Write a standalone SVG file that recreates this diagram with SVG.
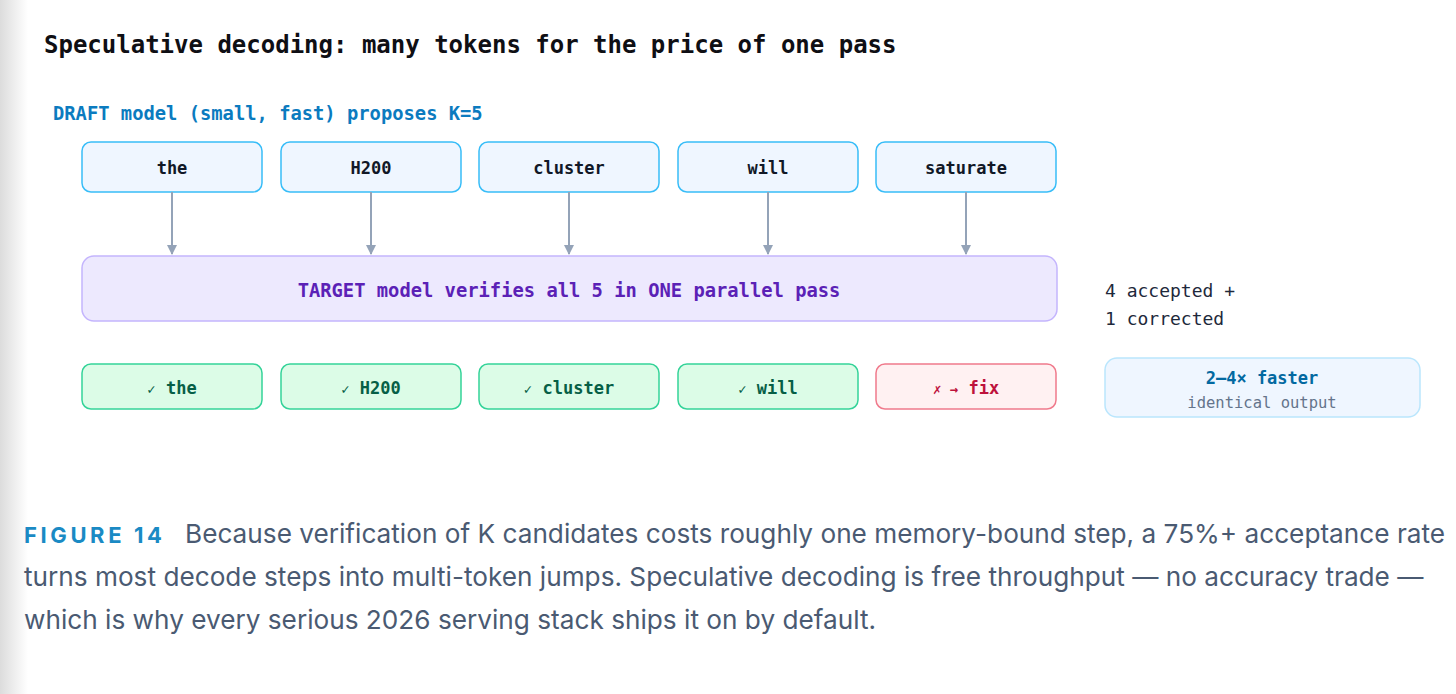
<svg xmlns="http://www.w3.org/2000/svg" width="1456" height="694" viewBox="0 0 1456 694">
<defs>
<linearGradient id="edge" x1="0" y1="0" x2="1" y2="0">
<stop offset="0" stop-color="#dcdcdc"/>
<stop offset="1" stop-color="#ffffff"/>
</linearGradient>
<marker id="arr" viewBox="0 0 10 10" refX="9" refY="5" markerWidth="10" markerHeight="10" markerUnits="userSpaceOnUse" orient="auto">
<path d="M0,0 L10,5 L0,10 Z" fill="#94a3b8"/>
</marker>
<style>
.mono{font-family:"DejaVu Sans Mono","Liberation Mono",monospace;}
.title{font-size:24px;font-weight:bold;fill:#0f0f14;}
.sub{font-size:18.8px;font-weight:bold;fill:#0b7bbf;}
.tok rect{fill:#eff6ff;stroke:#38bdf8;stroke-width:1.5;}
.tok text{font-size:17px;font-weight:bold;fill:#111827;text-anchor:middle;}
.ok rect{fill:#dcfce7;stroke:#34d399;stroke-width:1.5;}
.ok text{font-size:17px;font-weight:bold;fill:#065f46;text-anchor:middle;}
.bad rect{fill:#fff1f2;stroke:#f07a8c;stroke-width:1.5;}
.bad text{font-size:17px;font-weight:bold;fill:#be123c;text-anchor:middle;}
.small{font-size:14px;}
.conn line{stroke:#94a3b8;stroke-width:2;}
.cap{font-family:"Inter","Roboto","Liberation Sans",sans-serif;font-size:26.2px;fill:#4a5a72;}
</style>
</defs>
<rect x="0" y="0" width="1456" height="694" fill="#ffffff"/>
<rect x="0" y="0" width="28" height="694" fill="url(#edge)"/>

<text class="mono title" x="44" y="53">Speculative decoding: many tokens for the price of one pass</text>
<text class="mono sub" x="53" y="120">DRAFT model (small, fast) proposes K=5</text>

<g id="draft-the" class="tok mono"><rect x="82" y="142" width="180" height="50" rx="9"/><text x="172" y="174">the</text></g>
<g id="draft-h200" class="tok mono"><rect x="281" y="142" width="180" height="50" rx="9"/><text x="371" y="174">H200</text></g>
<g id="draft-cluster" class="tok mono"><rect x="479" y="142" width="180" height="50" rx="9"/><text x="569" y="174">cluster</text></g>
<g id="draft-will" class="tok mono"><rect x="678" y="142" width="180" height="50" rx="9"/><text x="768" y="174">will</text></g>
<g id="draft-saturate" class="tok mono"><rect x="876" y="142" width="180" height="50" rx="9"/><text x="966" y="174">saturate</text></g>

<g id="connectors" class="conn">
<line x1="172" y1="192" x2="172" y2="254" marker-end="url(#arr)"/>
<line x1="371" y1="192" x2="371" y2="254" marker-end="url(#arr)"/>
<line x1="569" y1="192" x2="569" y2="254" marker-end="url(#arr)"/>
<line x1="768" y1="192" x2="768" y2="254" marker-end="url(#arr)"/>
<line x1="966" y1="192" x2="966" y2="254" marker-end="url(#arr)"/>
</g>

<g id="target">
<rect x="82" y="256" width="975" height="65" rx="12" fill="#ede9fe" stroke="#c4b5fd" stroke-width="1.5"/>
<text class="mono" x="569" y="297" font-size="18.8" font-weight="bold" fill="#5b21b6" text-anchor="middle">TARGET model verifies all 5 in ONE parallel pass</text>
</g>

<g id="result-note">
<text class="mono" x="1105" y="297" font-size="18" fill="#1e293b">4 accepted +</text>
<text class="mono" x="1105" y="325" font-size="18" fill="#1e293b">1 corrected</text>
</g>

<g id="res-the" class="ok mono"><rect x="82" y="364" width="180" height="45" rx="9"/><text x="172" y="394"><tspan class="small">✓</tspan> the</text></g>
<g id="res-h200" class="ok mono"><rect x="281" y="364" width="180" height="45" rx="9"/><text x="371" y="394"><tspan class="small">✓</tspan> H200</text></g>
<g id="res-cluster" class="ok mono"><rect x="479" y="364" width="180" height="45" rx="9"/><text x="569" y="394"><tspan class="small">✓</tspan> cluster</text></g>
<g id="res-will" class="ok mono"><rect x="678" y="364" width="180" height="45" rx="9"/><text x="768" y="394"><tspan class="small">✓</tspan> will</text></g>
<g id="res-fix" class="bad mono"><rect x="876" y="364" width="180" height="45" rx="9"/><text x="966" y="394"><tspan class="small">✗ →</tspan> fix</text></g>

<g id="speedup">
<rect x="1105" y="358" width="315" height="59" rx="12" fill="#eff6ff" stroke="#bae6fd" stroke-width="1.5"/>
<text class="mono" x="1262" y="384" font-size="17" font-weight="bold" fill="#0369a1" text-anchor="middle">2–4× faster</text>
<text class="mono" x="1262" y="408" font-size="15.5" fill="#64748b" text-anchor="middle">identical output</text>
</g>

<g id="caption">
<text class="cap" x="24" y="543"><tspan font-weight="bold" fill="#1a8ac4" font-size="22" letter-spacing="3.6">FIGURE 14</tspan><tspan x="185">Because verification of K candidates costs roughly one memory-bound step, a 75%+ acceptance rate</tspan></text>
<text class="cap" x="24" y="586">turns most decode steps into multi-token jumps. Speculative decoding is free throughput — no accuracy trade —</text>
<text class="cap" x="24" y="629">which is why every serious 2026 serving stack ships it on by default.</text>
</g>
</svg>
